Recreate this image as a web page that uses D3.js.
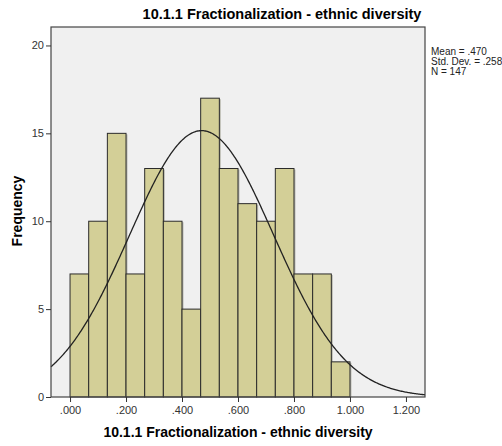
<!DOCTYPE html>
<html lang="en">
<meta charset="utf-8" />
<style>
    body { margin: 0; background: #fff; }
    text { font-family: "Liberation Sans", Arial, sans-serif; }
    .tick text { font-size: 11px; fill: #333; }
    .tick line { stroke: #333; }
    .domain { stroke: none; }
</style>
<body>
<svg width="502" height="446"></svg>
<script src="https://d3js.org/d3.v7.min.js"></script>
<script>
    // bin counts, bins of width 1/15 starting at .000
    var binStart = 0
    var binWidth = 1 / 15
    var counts = [7, 10, 15, 7, 13, 10, 5, 17, 13, 11, 10, 13, 7, 7, 2]
    var mean = 0.470
    var sd = 0.258
    var n = 147
    var xTicks = [0, 0.2, 0.4, 0.6, 0.8, 1.0, 1.2]
    var yTicks = [0, 5, 10, 15, 20]
    var statLines = ["Mean = .470", "Std. Dev. = .258", "N = 147"]
    var title = "10.1.1 Fractionalization - ethnic diversity"

    var svg = d3.select("svg")
    var pLeft = 51, pRight = 425, pTop = 27, pBottom = 397

    var x = d3.scaleLinear().domain([-0.068, 1.268]).range([pLeft, pRight])
    var y = d3.scaleLinear().domain([0, 21.05]).range([pBottom, pTop])

    svg.append("rect")
        .attr("x", pLeft).attr("y", pTop)
        .attr("width", pRight - pLeft).attr("height", pBottom - pTop)
        .attr("fill", "#f0f0f0")

    var bins = counts.map(function(c, i) {
        return { x0: binStart + i * binWidth, x1: binStart + (i + 1) * binWidth, c: c }
    })

    // faint shadow on right side of bars
    svg.selectAll("rect.shadow")
        .data(bins)
        .enter()
        .append("rect")
        .attr("class", "shadow")
        .attr("x", d => x(d.x0) + 1.5)
        .attr("y", d => y(d.c) + 1)
        .attr("width", d => x(d.x1) - x(d.x0))
        .attr("height", d => y(0) - y(d.c) - 1)
        .attr("fill", "#9a9a8a")
        .attr("opacity", 0.6)

    svg.selectAll("rect.bar")
        .data(bins)
        .enter()
        .append("rect")
        .attr("class", "bar")
        .attr("x", d => x(d.x0))
        .attr("y", d => y(d.c))
        .attr("width", d => x(d.x1) - x(d.x0))
        .attr("height", d => y(0) - y(d.c))
        .attr("fill", "#d3cf97")
        .attr("stroke", "#2b2b2b")
        .attr("stroke-width", 1)

    // normal curve
    var xs = d3.range(0, 401).map(i => -0.068 + i * (1.336 / 400))
    var curve = d3.line()
        .x(d => x(d))
        .y(d => y(n * binWidth * Math.exp(-0.5 * Math.pow((d - mean) / sd, 2)) / (sd * Math.sqrt(2 * Math.PI))))
    svg.append("path")
        .datum(xs)
        .attr("d", curve)
        .attr("fill", "none")
        .attr("stroke", "#222")
        .attr("stroke-width", 1.3)

    svg.append("rect")
        .attr("x", pLeft).attr("y", pTop)
        .attr("width", pRight - pLeft).attr("height", pBottom - pTop)
        .attr("fill", "none")
        .attr("stroke", "#444")
        .attr("stroke-width", 1.2)

    svg.append("g")
        .attr("transform", "translate(0," + pBottom + ")")
        .call(d3.axisBottom(x).tickValues(xTicks).tickSize(5).tickPadding(4)
            .tickFormat(d => d3.format(".3f")(d).replace(/^0\./, ".")))

    svg.append("g")
        .attr("transform", "translate(" + pLeft + ",0)")
        .call(d3.axisLeft(y).tickValues(yTicks).tickSize(5).tickPadding(2))

    svg.append("text")
        .attr("x", 282).attr("y", 19)
        .attr("text-anchor", "middle")
        .attr("font-size", 14.5)
        .attr("font-weight", "bold")
        .text(title)

    svg.append("text")
        .attr("x", 238).attr("y", 437)
        .attr("text-anchor", "middle")
        .attr("font-size", 14)
        .attr("font-weight", "bold")
        .text(title)

    svg.append("text")
        .attr("transform", "translate(22,211) rotate(-90)")
        .attr("text-anchor", "middle")
        .attr("font-size", 14)
        .attr("font-weight", "bold")
        .text("Frequency")

    svg.selectAll("text.stat")
        .data(statLines)
        .enter()
        .append("text")
        .attr("class", "stat")
        .attr("x", 431)
        .attr("y", (d, i) => 55 + i * 10)
        .attr("font-size", 10)
        .attr("fill", "#222")
        .text(d => d)
</script>
</body>
</html>
